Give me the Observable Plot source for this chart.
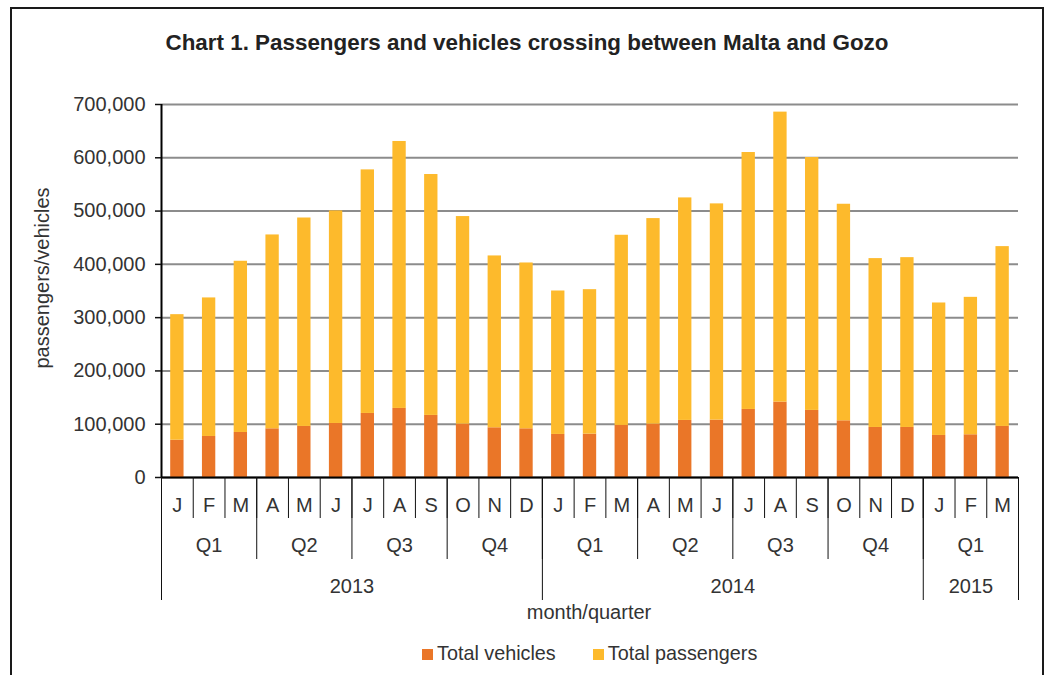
<!DOCTYPE html>
<html><head><meta charset="utf-8">
<script src="https://cdn.jsdelivr.net/npm/d3@7"></script>
<script src="https://cdn.jsdelivr.net/npm/@observablehq/plot@0.6"></script>
<style>
body{margin:0;background:#fff;}
#wrap{position:relative;width:1046px;height:675px;overflow:hidden;font-family:"Liberation Sans",Arial,sans-serif;color:#333;}
#frame{position:absolute;left:10px;top:7px;width:1034px;height:720px;border:2px solid #1a1a1a;box-sizing:border-box;}
#chart{position:absolute;left:0;top:0;}
#title{position:absolute;left:0;width:1054px;top:32px;text-align:center;font-weight:bold;font-size:22.4px;line-height:22.4px;color:#222;white-space:nowrap;}
#ylabel{position:absolute;left:-108px;top:268px;width:300px;height:20px;line-height:20px;font-size:20px;text-align:center;transform:rotate(-90deg);white-space:nowrap;}
#xlabel{position:absolute;left:0;width:1178px;top:602px;font-size:20px;line-height:20px;text-align:center;white-space:nowrap;}
#legend{position:absolute;left:422px;top:644px;font-size:19.8px;line-height:19.8px;white-space:nowrap;}
#legend .item{display:inline-block;margin-right:37px;}
#legend .sw{display:inline-block;width:11px;height:11px;margin-right:4px;vertical-align:baseline;}
</style>
</head><body>
<div id="wrap">
  <div id="chart"></div>
  <div id="frame"></div>
  <div id="title"></div>
  <div id="ylabel"></div>
  <div id="xlabel"></div>
  <div id="legend"></div>
</div>
<script>
const titleText = "Chart 1. Passengers and vehicles crossing between Malta and Gozo";
const yAxisTitle = "passengers/vehicles";
const xAxisTitle = "month/quarter";

const months   = ["J","F","M","A","M","J","J","A","S","O","N","D","J","F","M","A","M","J","J","A","S","O","N","D","J","F","M"];
const quarters = ["Q1","Q1","Q1","Q2","Q2","Q2","Q3","Q3","Q3","Q4","Q4","Q4","Q1","Q1","Q1","Q2","Q2","Q2","Q3","Q3","Q3","Q4","Q4","Q4","Q1","Q1","Q1"];
const years    = ["2013","2013","2013","2013","2013","2013","2013","2013","2013","2013","2013","2013","2014","2014","2014","2014","2014","2014","2014","2014","2014","2014","2014","2014","2015","2015","2015"];

const vehicles   = [70000, 77000, 84500, 91400, 95800, 101400, 120200, 129600, 116500, 100200, 93300, 91400, 80800, 81400, 97700, 100200, 107100, 107700, 127700, 141500, 125900, 106400, 93900, 93900, 78900, 80200, 95800];
const passengers = [235600, 260000, 321300, 363800, 391200, 398900, 457100, 501000, 452100, 389500, 322500, 311200, 269200, 271100, 356900, 385700, 417600, 405800, 482200, 544200, 474600, 406400, 316900, 318700, 248600, 257900, 337500];

const seriesNames  = ["Total vehicles", "Total passengers"];
const seriesColors = ["#EA7628", "#FDBA2C"];
const yTicks = [0, 100000, 200000, 300000, 400000, 500000, 600000, 700000];

const n = months.length;
const idx = d3.range(n);
const rows = [];
idx.forEach(i => {
  rows.push({i, series: seriesNames[0], value: vehicles[i]});
  rows.push({i, series: seriesNames[1], value: passengers[i]});
});

const qGroups = d3.groups(idx, i => years[i] + quarters[i]).map(([k, is]) => ({label: quarters[is[0]], start: is[0], center: d3.mean(is) + 0.5}));
const yGroups = d3.groups(idx, i => years[i]).map(([k, is]) => ({label: k, start: is[0], center: d3.mean(is) + 0.5}));
const qBounds = [...qGroups.map(g => g.start), n];
const yBounds = [...yGroups.map(g => g.start), n];
const qLabel = new Map(qGroups.map(g => [g.center, g.label]));
const yLabel = new Map(yGroups.map(g => [g.center, g.label]));

const common = {label: null, fontSize: 20, fill: "#333", stroke: "#111"};

const plot = Plot.plot({
  width: 1046, height: 675,
  marginLeft: 161, marginRight: 28, marginTop: 104, marginBottom: 198,
  style: {fontFamily: "'Liberation Sans', Arial, sans-serif", fontSize: "20px", color: "#333", background: "transparent", overflow: "visible"},
  x: {domain: [0, n], axis: null},
  y: {domain: [0, 700000], axis: null},
  color: {domain: seriesNames, range: seriesColors},
  marks: [
    Plot.gridY(yTicks, {stroke: "#8c8c8c", strokeOpacity: 1, strokeWidth: 2}),
    Plot.rectY(rows, {x: "i", interval: 1, y: "value", fill: "series", insetLeft: 9.2, insetRight: 9.2}),
    Plot.ruleY([0], {stroke: "#000", strokeWidth: 2}),
    Plot.ruleX([0], {stroke: "#000", strokeWidth: 2}),
    Plot.axisY({...common, ticks: yTicks, tickSize: 6, tickPadding: 10, tickFormat: d3.format(","), strokeWidth: 1.5}),
    Plot.axisX({...common, ticks: d3.range(n + 1), tickSize: 41, tickFormat: () => "", strokeWidth: 1}),
    Plot.axisX({...common, ticks: qBounds, tickSize: 82, tickFormat: () => "", strokeWidth: 1}),
    Plot.axisX({...common, ticks: yBounds, tickSize: 123, tickFormat: () => "", strokeWidth: 1}),
    Plot.axisX({...common, ticks: idx.map(i => i + 0.5), tickSize: 0, tickPadding: 20, tickFormat: v => months[Math.floor(v)]}),
    Plot.axisX({...common, ticks: qGroups.map(g => g.center), tickSize: 0, tickPadding: 60, tickFormat: v => qLabel.get(v)}),
    Plot.axisX({...common, ticks: yGroups.map(g => g.center), tickSize: 0, tickPadding: 101, tickFormat: v => yLabel.get(v)})
  ]
});
document.getElementById("chart").appendChild(plot);

document.getElementById("title").textContent = titleText;
document.getElementById("ylabel").textContent = yAxisTitle;
document.getElementById("xlabel").textContent = xAxisTitle;
const legend = document.getElementById("legend");
seriesNames.forEach((s, k) => {
  const item = document.createElement("span");
  item.className = "item";
  const sw = document.createElement("span");
  sw.className = "sw";
  sw.style.background = seriesColors[k];
  item.appendChild(sw);
  item.appendChild(document.createTextNode(s));
  legend.appendChild(item);
});
</script>
</body></html>
